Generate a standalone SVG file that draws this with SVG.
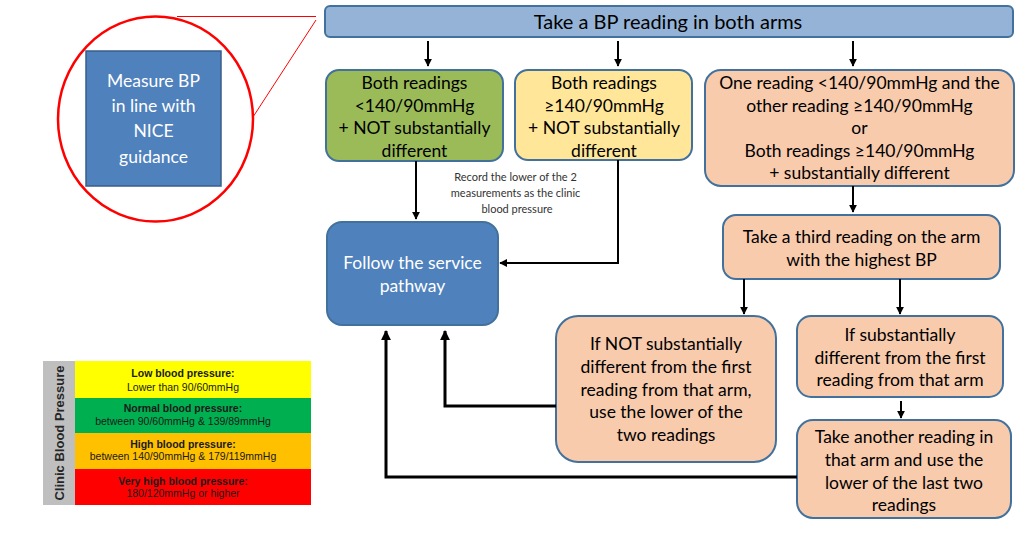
<svg xmlns="http://www.w3.org/2000/svg" width="1024" height="537" viewBox="0 0 1024 537">
<style>
.t{font-family:Lato,"Open Sans","Liberation Sans",sans-serif;font-size:17.5px;fill:#000;text-anchor:middle}
.w{fill:#fff}
.box{stroke:#41719c;stroke-width:2}
.c{fill:none;stroke:#000;stroke-width:2}
.c3{fill:none;stroke:#000;stroke-width:3}
.lg{font-family:"Liberation Sans",Arial,sans-serif;font-size:10.5px;fill:#1a1a1a;text-anchor:middle}
.lb{font-weight:bold}
</style>
<defs>
<marker id="ah" viewBox="0 0 10 10" refX="9" refY="5" markerWidth="4" markerHeight="4" orient="auto" markerUnits="strokeWidth">
<path d="M0,0 L10,5 L0,10 z" fill="#000"/>
</marker>
<marker id="ah2" viewBox="0 0 10 10" refX="9" refY="5" markerWidth="3.3" markerHeight="3.3" orient="auto" markerUnits="strokeWidth">
<path d="M0,0 L10,5 L0,10 z" fill="#000"/>
</marker>
</defs>
<rect width="1024" height="537" fill="#fff"/>

<g id="zoom-callout">
<ellipse cx="155.5" cy="119" rx="97.5" ry="102.5" fill="none" stroke="#ff0000" stroke-width="2.5"/>
<line x1="177" y1="16.5" x2="316" y2="16.5" stroke="#ff0000" stroke-width="1"/>
<line x1="253" y1="117" x2="316" y2="20" stroke="#ff0000" stroke-width="1"/>
</g>

<g id="measure">
<rect x="86" y="51" width="135" height="135" fill="#4f81bd" stroke="#385d8a" stroke-width="1.5"/>
<text class="t w" x="153.5" y="87">Measure BP</text>
<text class="t w" x="153.5" y="112">in line with</text>
<text class="t w" x="153.5" y="137">NICE</text>
<text class="t w" x="153.5" y="163">guidance</text>
</g>

<g id="top">
<rect class="box" x="325" y="6" width="688" height="31" rx="5" fill="#95b3d7"/>
<text class="t" x="668" y="28.5" style="font-size:20px">Take a BP reading in both arms</text>
</g>

<g id="green">
<rect class="box" x="326" y="70" width="177" height="91" rx="13" fill="#9bbb59"/>
<text class="t" x="414.5" y="89">Both readings</text>
<text class="t" x="414.5" y="112">&lt;140/90mmHg</text>
<text class="t" x="414.5" y="134">+ NOT substantially</text>
<text class="t" x="414.5" y="157">different</text>
</g>

<g id="yellow">
<rect class="box" x="515" y="70" width="177" height="90" rx="13" fill="#ffe699"/>
<text class="t" x="604" y="89">Both readings</text>
<text class="t" x="604" y="112">≥140/90mmHg</text>
<text class="t" x="604" y="134">+ NOT substantially</text>
<text class="t" x="604" y="157">different</text>
</g>

<g id="orange">
<rect class="box" x="705" y="70" width="309" height="116" rx="16" fill="#f8cbad"/>
<text class="t" x="859.5" y="89">One reading &lt;140/90mmHg and the</text>
<text class="t" x="859.5" y="112">other reading ≥140/90mmHg</text>
<text class="t" x="859.5" y="134">or</text>
<text class="t" x="859.5" y="157">Both readings ≥140/90mmHg</text>
<text class="t" x="859.5" y="179">+ substantially different</text>
</g>

<g id="follow">
<rect class="box" x="327" y="222" width="171" height="103" rx="15" fill="#4f81bd"/>
<text class="t w" x="412.5" y="269">Follow the service</text>
<text class="t w" x="412.5" y="292">pathway</text>
</g>

<g id="third">
<rect class="box" x="723" y="215" width="277" height="64" rx="13" fill="#f8cbad"/>
<text class="t" x="861.5" y="243">Take a third reading on the arm</text>
<text class="t" x="861.5" y="266">with the highest BP</text>
</g>

<g id="not-sub">
<rect class="box" x="556" y="316" width="220" height="146" rx="22" fill="#f8cbad"/>
<text class="t" x="666" y="350">If NOT substantially</text>
<text class="t" x="666" y="373">different from the first</text>
<text class="t" x="666" y="396">reading from that arm,</text>
<text class="t" x="666" y="418">use the lower of the</text>
<text class="t" x="666" y="441">two readings</text>
</g>

<g id="sub">
<rect class="box" x="797" y="316" width="206" height="81" rx="14" fill="#f8cbad"/>
<text class="t" x="900" y="341">If substantially</text>
<text class="t" x="900" y="364">different from the first</text>
<text class="t" x="900" y="386">reading from that arm</text>
</g>

<g id="another">
<rect class="box" x="797" y="420" width="214" height="98" rx="16" fill="#f8cbad"/>
<text class="t" x="904" y="443">Take another reading in</text>
<text class="t" x="904" y="466">that arm and use the</text>
<text class="t" x="904" y="489">lower of the last two</text>
<text class="t" x="904" y="511">readings</text>
</g>

<g id="connectors">
<line class="c" x1="428" y1="41" x2="428" y2="66" marker-end="url(#ah)"/>
<line class="c" x1="618" y1="41" x2="618" y2="66" marker-end="url(#ah)"/>
<line class="c" x1="853" y1="41" x2="853" y2="66" marker-end="url(#ah)"/>
<line class="c" x1="416" y1="161" x2="416" y2="219" marker-end="url(#ah)"/>
<polyline class="c" points="618,160 618,263 500,263" marker-end="url(#ah)"/>
<line class="c" x1="853" y1="186" x2="853" y2="212" marker-end="url(#ah)"/>
<line class="c" x1="744" y1="279" x2="744" y2="314" marker-end="url(#ah)"/>
<line class="c" x1="900" y1="279" x2="900" y2="314" marker-end="url(#ah)"/>
<line class="c" x1="901" y1="401" x2="901" y2="418" marker-end="url(#ah)"/>
<polyline class="c3" points="556,406 445,406 445,331" marker-end="url(#ah2)"/>
<polyline class="c3" points="797,477 386,477 386,331" marker-end="url(#ah2)"/>
<text font-family="Lato,'Open Sans','Liberation Sans',sans-serif" font-size="11" fill="#333" text-anchor="middle">
<tspan x="517" y="181">Record the lower of the 2</tspan>
<tspan x="517" y="197">measurements as the clinic</tspan>
<tspan x="517" y="213">blood pressure</tspan>
</text>
</g>

<g id="legend">
<rect x="43" y="361" width="32" height="144" fill="#bfbfbf"/>
<text x="0" y="0" transform="translate(64,433) rotate(-90)" font-family="'Liberation Sans',Arial,sans-serif" font-size="13" font-weight="bold" fill="#262626" text-anchor="middle">Clinic Blood Pressure</text>
<rect x="75" y="361" width="236" height="37" fill="#ffff00"/>
<rect x="75" y="398" width="236" height="35" fill="#00b050"/>
<rect x="75" y="433" width="236" height="36" fill="#ffc000"/>
<rect x="75" y="469" width="236" height="36" fill="#ff0000"/>
<text class="lg lb" x="183" y="377">Low blood pressure:</text>
<text class="lg" x="183" y="391">Lower than 90/60mmHg</text>
<text class="lg lb" x="183" y="412">Normal blood pressure:</text>
<text class="lg" x="183" y="425">between 90/60mmHg &amp; 139/89mmHg</text>
<text class="lg lb" x="183" y="448">High blood pressure:</text>
<text class="lg" x="183" y="460">between 140/90mmHg &amp; 179/119mmHg</text>
<text class="lg lb" x="183" y="485">Very high blood pressure:</text>
<text class="lg" x="183" y="497">180/120mmHg or higher</text>
</g>
</svg>
